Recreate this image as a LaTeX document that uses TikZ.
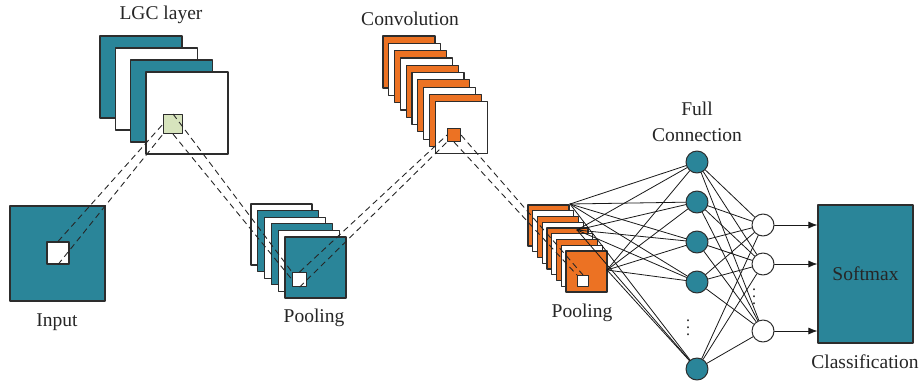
\documentclass[tikz,border=0pt]{standalone}
\usepackage{fontspec}
\setmainfont{Liberation Serif}
\usepackage{tikz}
\usetikzlibrary{positioning, arrows.meta}

\definecolor{cnnteal}{RGB}{42,133,153}
\definecolor{cnnorange}{RGB}{236,114,35}
\definecolor{cnngreen}{RGB}{215,228,189}
\definecolor{cnnedge}{RGB}{45,45,45}

\begin{document}
\begin{tikzpicture}[x=1pt, y=-1pt, line cap=round, line join=round,
    fmap/.style={draw=cnnedge, line width=1.2pt},
    win/.style={draw=cnnedge, line width=1.1pt, inner sep=0pt, anchor=north west},
    link/.style={black!85, line width=0.9pt, dash pattern=on 6pt off 4pt, line cap=butt},
    wire/.style={black!90, line width=0.8pt},
    neuron/.style={circle, draw=cnnedge, line width=1pt, fill=cnnteal, minimum size=22pt, inner sep=0pt},
    outneuron/.style={neuron, fill=white},
    dotmark/.style={anchor=base, inner sep=0pt, text height=2.4pt, text depth=0pt, font=\fontsize{16}{18}\selectfont, text=black!85},
    lbl/.style={anchor=base, font=\fontsize{19.5}{22}\selectfont, text=black!85}]
                \useasboundingbox (0,0) rectangle (924,381);
                % input image
                \draw[fmap, fill=cnnteal] (10,206) rectangle (105,301);
                \node[win, fill=white, minimum size=22pt, anchor=center] (inwin) at (58,253) {};
                \node[lbl] at (57,326) {Input};
                % LGC layer maps
                \foreach \i/\c in {0/cnnteal,1/white,2/cnnteal,3/white}
                    \draw[fmap, fill=\c] (100+15.3*\i, 36+12*\i) rectangle ++(82,82);
                \node[win, fill=cnngreen, minimum size=19pt] (lgcwin) at (163,114) {};
                \node[lbl] at (161,19) {LGC layer};
                % first pooling maps
                \foreach \i/\c in {0/white,1/cnnteal,2/white,3/cnnteal,4/white,5/cnnteal}
                    \draw[fmap, fill=\c] (251+6.8*\i, 204+6.6*\i) rectangle ++(61,61);
                \node[win, fill=white, minimum size=14pt] (poolwin) at (292,272) {};
                \node[lbl] at (314,322) {Pooling};
                % convolution maps
                \foreach \i/\c in {0/cnnorange,1/white,2/cnnorange,3/white,4/cnnorange,5/white,6/cnnorange,7/white,8/cnnorange,9/white}
                    \draw[fmap, fill=\c] (383+5.8*\i, 36+7.3*\i) rectangle ++(52,52);
                \node[win, fill=cnnorange, minimum size=13pt] (convwin) at (447,128) {};
                \node[lbl] at (410,25) {Convolution};
                % second pooling maps
                \foreach \i/\c in {0/cnnorange,1/white,2/cnnorange,3/white,4/cnnorange,5/white,6/cnnorange,7/white,8/cnnorange}
                    \draw[fmap, fill=\c] (528+4.75*\i, 205+5.75*\i) rectangle ++(41,41);
                \node[win, fill=white, minimum size=11pt] (poolwintwo) at (577,275) {};
                \node[lbl] at (582,317) {Pooling};
                % receptive field links
                \draw[link] (inwin.north) -- (lgcwin.west);
                \draw[link] (inwin.south) -- (lgcwin.south west);
                \draw[link] (lgcwin.north) -- (poolwin.north west);
                \draw[link] (lgcwin.south) -- (poolwin.west);
                \draw[link] (poolwin.north) -- (convwin.west);
                \draw[link] (poolwin.south) -- (convwin.south west);
                \draw[link] (convwin.south) -- (poolwintwo.north west);
                \draw[link] (convwin.east) -- (poolwintwo.north);
                % full connection neurons
                \foreach \n/\y in {1/162,2/202,3/242,4/282,5/369}
                    \node[neuron] (fc\n) at (697,\y) {};
                \foreach \d/\y in {1/320,2/327,3/334}
                    \node[dotmark] (fcdot\d) at (688,\y+1.3) {.};
                \node[lbl] at (697,115) {Full};
                \node[lbl] at (697,141) {Connection};
                % output neurons
                \foreach \n/\y in {1/225,2/264,3/331}
                    \node[outneuron] (out\n) at (763,\y) {};
                \foreach \d/\y in {1/289,2/296,3/303}
                    \node[dotmark] (outdot\d) at (754,\y+1.3) {.};
                % softmax
                \node[draw=cnnedge, line width=1.2pt, fill=cnnteal, minimum width=95pt, minimum height=138pt,
                      font=\fontsize{19.5}{22}\selectfont, text=black!85] (smax) at (865.5,274) {Softmax};
                \node[lbl] at (865,368) {Classification};
                % pooling to full connection
                \coordinate (src1) at (570,204);
                \coordinate (src2) at (577,230);
                \coordinate (src3) at (607,270);
                \foreach \s in {1,2,3}
                    \foreach \n in {1,...,5}
                        \draw[wire] (src\s) -- (fc\n);
                % full connection to output
                \foreach \n in {1,...,5}
                    \foreach \o in {1,2,3}
                        \draw[wire] (fc\n) -- (out\o);
                % output to softmax
                \foreach \o in {1,2,3}
                    \draw[wire, -{Latex[length=9pt, width=7pt]}] (out\o) -- (out\o -| smax.west);
        \end{tikzpicture}
\end{document}
